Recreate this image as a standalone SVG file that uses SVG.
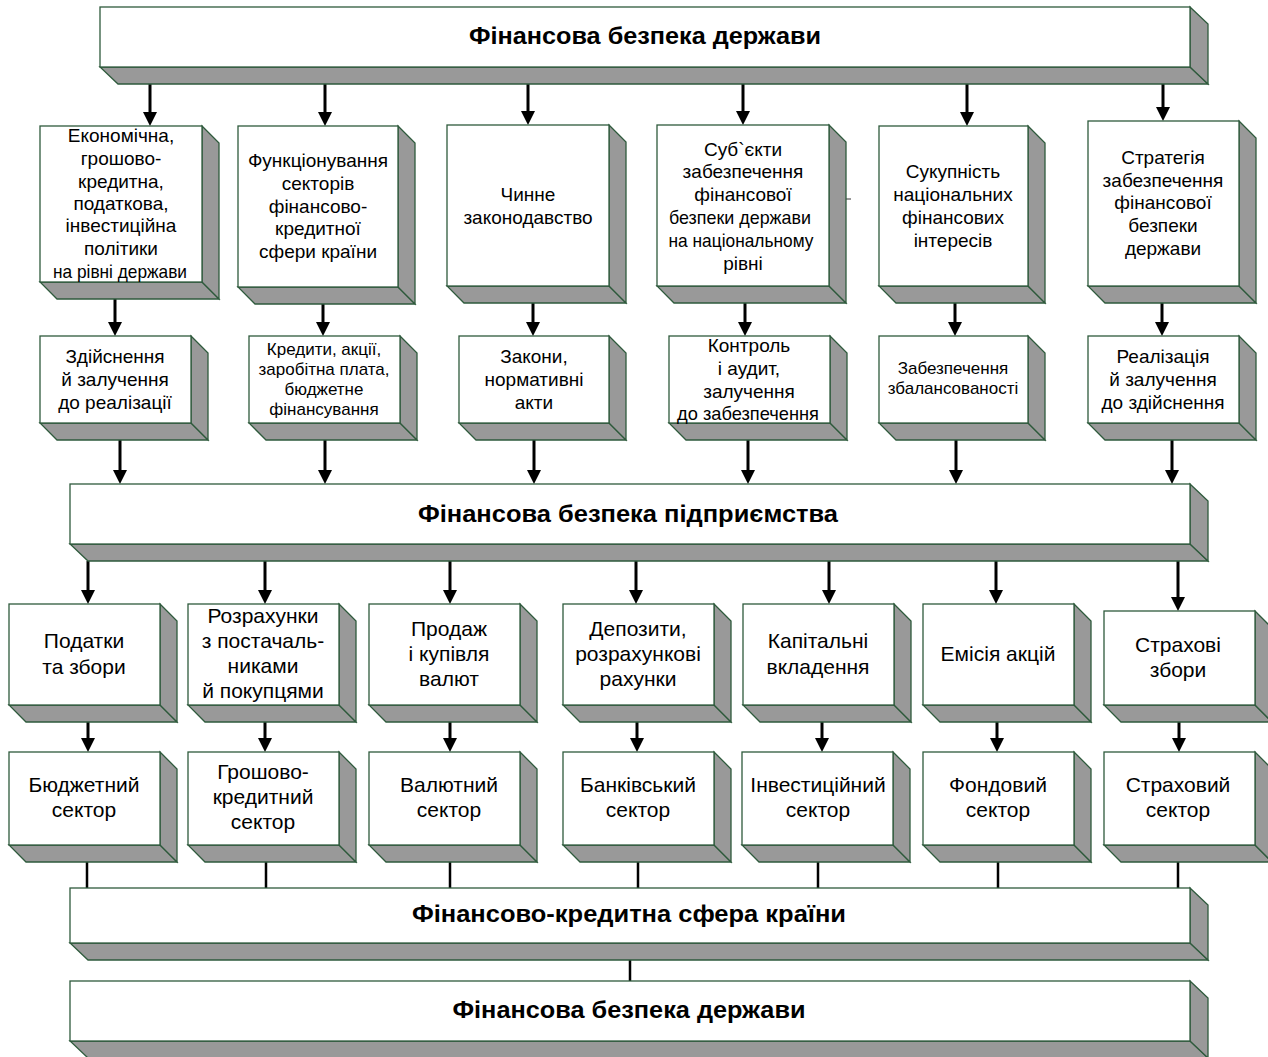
<svg xmlns="http://www.w3.org/2000/svg" width="1268" height="1057" viewBox="0 0 1268 1057">
<style>
.f{fill:#fff;stroke:#2e5a3c;stroke-width:1.3}
.s{fill:#999;stroke:#2e5a3c;stroke-width:1.3;stroke-linejoin:miter}
text{font-family:"Liberation Sans",Arial,sans-serif;fill:#000;text-anchor:middle}
.t{font-size:19px}
.m{font-size:17px}
.l{font-size:21px}
.b{font-size:24px;font-weight:bold}
.a{stroke:#000;stroke-width:3;fill:none}
.c{stroke:#000;stroke-width:2.5;fill:none}
</style>
<defs>
<marker id="ah" markerWidth="14" markerHeight="14" refX="0" refY="7" orient="auto" markerUnits="userSpaceOnUse"><path d="M0,0 L14,7 L0,14 z" fill="#000"/></marker>
</defs>

<g id="connectors">
<g class="a" marker-end="url(#ah)">
<line x1="150" y1="84" x2="150" y2="112"/><line x1="325" y1="84" x2="325" y2="112"/><line x1="528" y1="84" x2="528" y2="111"/><line x1="743" y1="84" x2="743" y2="111"/><line x1="967" y1="84" x2="967" y2="112"/><line x1="1163" y1="84" x2="1163" y2="107"/>
<line x1="115" y1="299" x2="115" y2="322"/><line x1="323" y1="304" x2="323" y2="322"/><line x1="533" y1="303" x2="533" y2="322"/><line x1="745" y1="303" x2="745" y2="322"/><line x1="955" y1="303" x2="955" y2="322"/><line x1="1162" y1="303" x2="1162" y2="322"/>
<line x1="120" y1="440" x2="120" y2="470"/><line x1="325" y1="440" x2="325" y2="470"/><line x1="534" y1="440" x2="534" y2="470"/><line x1="748" y1="440" x2="748" y2="470"/><line x1="956" y1="440" x2="956" y2="470"/><line x1="1172" y1="440" x2="1172" y2="470"/>
<line x1="88" y1="561" x2="88" y2="590"/><line x1="265" y1="561" x2="265" y2="590"/><line x1="450" y1="561" x2="450" y2="590"/><line x1="636" y1="561" x2="636" y2="590"/><line x1="829" y1="561" x2="829" y2="590"/><line x1="996" y1="561" x2="996" y2="590"/><line x1="1178" y1="561" x2="1178" y2="597"/>
<line x1="88" y1="722" x2="88" y2="738"/><line x1="265" y1="722" x2="265" y2="738"/><line x1="450" y1="722" x2="450" y2="738"/><line x1="637" y1="722" x2="637" y2="738"/><line x1="822" y1="722" x2="822" y2="738"/><line x1="997" y1="722" x2="997" y2="738"/><line x1="1179" y1="722" x2="1179" y2="738"/>
</g>
<path class="c" d="M87,862V888M266,862V888M450,862V888M638,862V888M818,862V888M998,862V888M1178,862V888M630,960V981"/>
<path stroke="#333" stroke-width="1" d="M845,199H851"/>
</g>

<g id="top">
<polygon class="s" points="100,67 1190,67 1208,84 118,84"/><polygon class="s" points="1190,7 1208,24 1208,84 1190,67"/>
<rect class="f" x="100" y="7" width="1090" height="60"/>
<text class="b" x="645" y="44" textLength="352" lengthAdjust="spacingAndGlyphs">Фінансова безпека держави</text>
</g>

<g id="a1">
<polygon class="s" points="40,282 202,282 219,299 57,299"/><polygon class="s" points="202,126 219,143 219,299 202,282"/>
<rect class="f" x="40" y="126" width="162" height="156"/>
<text class="t" x="121" y="142">Економічна,</text>
<text class="t" x="121" y="165">грошово-</text>
<text class="t" x="121" y="188">кредитна,</text>
<text class="t" x="121" y="210">податкова,</text>
<text class="t" x="121" y="232">інвестиційна</text>
<text class="t" x="121" y="255">політики</text>
<text class="t" x="120" y="278" textLength="134" lengthAdjust="spacingAndGlyphs">на рівні держави</text>
</g>
<g id="a2">
<polygon class="s" points="238,287 398,287 415,304 255,304"/><polygon class="s" points="398,126 415,143 415,304 398,287"/>
<rect class="f" x="238" y="126" width="160" height="161"/>
<text class="t" x="318" y="167">Функціонування</text>
<text class="t" x="318" y="190">секторів</text>
<text class="t" x="318" y="213">фінансово-</text>
<text class="t" x="318" y="235">кредитної</text>
<text class="t" x="318" y="258">сфери країни</text>
</g>
<g id="a3">
<polygon class="s" points="447,286 609,286 626,303 464,303"/><polygon class="s" points="609,125 626,142 626,303 609,286"/>
<rect class="f" x="447" y="125" width="162" height="161"/>
<text class="t" x="528" y="201">Чинне</text>
<text class="t" x="528" y="224">законодавство</text>
</g>
<g id="a4">
<polygon class="s" points="657,286 829,286 846,303 674,303"/><polygon class="s" points="829,125 846,142 846,303 829,286"/>
<rect class="f" x="657" y="125" width="172" height="161"/>
<text class="t" x="743" y="156">Суб`єкти</text>
<text class="t" x="743" y="178">забезпечення</text>
<text class="t" x="743" y="201">фінансової</text>
<text class="t" x="740" y="224" textLength="142" lengthAdjust="spacingAndGlyphs">безпеки держави</text>
<text class="t" x="741" y="247" textLength="145" lengthAdjust="spacingAndGlyphs">на національному</text>
<text class="t" x="743" y="270">рівні</text>
</g>
<g id="a5">
<polygon class="s" points="879,286 1028,286 1045,303 896,303"/><polygon class="s" points="1028,126 1045,143 1045,303 1028,286"/>
<rect class="f" x="879" y="126" width="149" height="160"/>
<text class="t" x="953" y="178">Сукупність</text>
<text class="t" x="953" y="201">національних</text>
<text class="t" x="953" y="224">фінансових</text>
<text class="t" x="953" y="247">інтересів</text>
</g>
<g id="a6">
<polygon class="s" points="1088,286 1239,286 1256,303 1105,303"/><polygon class="s" points="1239,121 1256,138 1256,303 1239,286"/>
<rect class="f" x="1088" y="121" width="151" height="165"/>
<text class="t" x="1163" y="164">Стратегія</text>
<text class="t" x="1163" y="187">забезпечення</text>
<text class="t" x="1163" y="209">фінансової</text>
<text class="t" x="1163" y="232">безпеки</text>
<text class="t" x="1163" y="255">держави</text>
</g>

<g id="b1">
<polygon class="s" points="40,423 191,423 208,440 57,440"/><polygon class="s" points="191,336 208,353 208,440 191,423"/>
<rect class="f" x="40" y="336" width="151" height="87"/>
<text class="t" x="115" y="363">Здійснення</text>
<text class="t" x="115" y="386">й залучення</text>
<text class="t" x="115" y="409">до реалізації</text>
</g>
<g id="b2">
<polygon class="s" points="249,423 400,423 417,440 266,440"/><polygon class="s" points="400,336 417,353 417,440 400,423"/>
<rect class="f" x="249" y="336" width="151" height="87"/>
<text class="m" x="324" y="355">Кредити, акції,</text>
<text class="m" x="324" y="375">заробітна плата,</text>
<text class="m" x="324" y="395">бюджетне</text>
<text class="m" x="324" y="415">фінансування</text>
</g>
<g id="b3">
<polygon class="s" points="459,423 609,423 626,440 476,440"/><polygon class="s" points="609,336 626,353 626,440 609,423"/>
<rect class="f" x="459" y="336" width="150" height="87"/>
<text class="t" x="534" y="363">Закони,</text>
<text class="t" x="534" y="386">нормативні</text>
<text class="t" x="534" y="409">акти</text>
</g>
<g id="b4">
<polygon class="s" points="669,423 830,423 847,440 686,440"/><polygon class="s" points="830,336 847,353 847,440 830,423"/>
<rect class="f" x="669" y="336" width="161" height="87"/>
<text class="t" x="749" y="352">Контроль</text>
<text class="t" x="749" y="375">і аудит,</text>
<text class="t" x="749" y="398">залучення</text>
<text class="t" x="748" y="420" textLength="142" lengthAdjust="spacingAndGlyphs">до забезпечення</text>
</g>
<g id="b5">
<polygon class="s" points="879,423 1028,423 1045,440 896,440"/><polygon class="s" points="1028,336 1045,353 1045,440 1028,423"/>
<rect class="f" x="879" y="336" width="149" height="87"/>
<text class="m" x="953" y="374">Забезпечення</text>
<text class="m" x="953" y="394">збалансованості</text>
</g>
<g id="b6">
<polygon class="s" points="1088,423 1239,423 1256,440 1105,440"/><polygon class="s" points="1239,336 1256,353 1256,440 1239,423"/>
<rect class="f" x="1088" y="336" width="151" height="87"/>
<text class="t" x="1163" y="363">Реалізація</text>
<text class="t" x="1163" y="386">й залучення</text>
<text class="t" x="1163" y="409">до здійснення</text>
</g>

<g id="enterprise">
<polygon class="s" points="70,544 1190,544 1208,561 88,561"/><polygon class="s" points="1190,484 1208,501 1208,561 1190,544"/>
<rect class="f" x="70" y="484" width="1120" height="60"/>
<text class="b" x="628" y="522" textLength="420" lengthAdjust="spacingAndGlyphs">Фінансова безпека підприємства</text>
</g>

<g id="c1">
<polygon class="s" points="9,705 160,705 177,722 26,722"/><polygon class="s" points="160,604 177,621 177,722 160,705"/>
<rect class="f" x="9" y="604" width="151" height="101"/>
<text class="l" x="84" y="648">Податки</text>
<text class="l" x="84" y="674">та збори</text>
</g>
<g id="c2">
<polygon class="s" points="188,705 339,705 356,722 205,722"/><polygon class="s" points="339,604 356,621 356,722 339,705"/>
<rect class="f" x="188" y="604" width="151" height="101"/>
<text class="l" x="263" y="623">Розрахунки</text>
<text class="l" x="263" y="648">з постачаль-</text>
<text class="l" x="263" y="673">никами</text>
<text class="l" x="263" y="698">й покупцями</text>
</g>
<g id="c3">
<polygon class="s" points="369,705 520,705 537,722 386,722"/><polygon class="s" points="520,604 537,621 537,722 520,705"/>
<rect class="f" x="369" y="604" width="151" height="101"/>
<text class="l" x="449" y="636">Продаж</text>
<text class="l" x="449" y="661">і купівля</text>
<text class="l" x="449" y="686">валют</text>
</g>
<g id="c4">
<polygon class="s" points="563,705 714,705 731,722 580,722"/><polygon class="s" points="714,604 731,621 731,722 714,705"/>
<rect class="f" x="563" y="604" width="151" height="101"/>
<text class="l" x="638" y="636">Депозити,</text>
<text class="l" x="638" y="661">розрахункові</text>
<text class="l" x="638" y="686">рахунки</text>
</g>
<g id="c5">
<polygon class="s" points="743,705 894,705 911,722 760,722"/><polygon class="s" points="894,604 911,621 911,722 894,705"/>
<rect class="f" x="743" y="604" width="151" height="101"/>
<text class="l" x="818" y="648">Капітальні</text>
<text class="l" x="818" y="674">вкладення</text>
</g>
<g id="c6">
<polygon class="s" points="923,705 1074,705 1091,722 940,722"/><polygon class="s" points="1074,604 1091,621 1091,722 1074,705"/>
<rect class="f" x="923" y="604" width="151" height="101"/>
<text class="l" x="998" y="661">Емісія акцій</text>
</g>
<g id="c7">
<polygon class="s" points="1104,705 1255,705 1272,722 1121,722"/><polygon class="s" points="1255,611 1272,628 1272,722 1255,705"/>
<rect class="f" x="1104" y="611" width="151" height="94"/>
<text class="l" x="1178" y="652">Страхові</text>
<text class="l" x="1178" y="677">збори</text>
</g>

<g id="d1">
<polygon class="s" points="9,845 160,845 177,862 26,862"/><polygon class="s" points="160,752 177,769 177,862 160,845"/>
<rect class="f" x="9" y="752" width="151" height="93"/>
<text class="l" x="84" y="792">Бюджетний</text>
<text class="l" x="84" y="817">сектор</text>
</g>
<g id="d2">
<polygon class="s" points="188,845 339,845 356,862 205,862"/><polygon class="s" points="339,752 356,769 356,862 339,845"/>
<rect class="f" x="188" y="752" width="151" height="93"/>
<text class="l" x="263" y="779">Грошово-</text>
<text class="l" x="263" y="804">кредитний</text>
<text class="l" x="263" y="829">сектор</text>
</g>
<g id="d3">
<polygon class="s" points="369,845 520,845 537,862 386,862"/><polygon class="s" points="520,752 537,769 537,862 520,845"/>
<rect class="f" x="369" y="752" width="151" height="93"/>
<text class="l" x="449" y="792">Валютний</text>
<text class="l" x="449" y="817">сектор</text>
</g>
<g id="d4">
<polygon class="s" points="563,845 714,845 731,862 580,862"/><polygon class="s" points="714,752 731,769 731,862 714,845"/>
<rect class="f" x="563" y="752" width="151" height="93"/>
<text class="l" x="638" y="792">Банківський</text>
<text class="l" x="638" y="817">сектор</text>
</g>
<g id="d5">
<polygon class="s" points="742,845 893,845 910,862 759,862"/><polygon class="s" points="893,752 910,769 910,862 893,845"/>
<rect class="f" x="742" y="752" width="151" height="93"/>
<text class="l" x="818" y="792">Інвестиційний</text>
<text class="l" x="818" y="817">сектор</text>
</g>
<g id="d6">
<polygon class="s" points="923,845 1074,845 1091,862 940,862"/><polygon class="s" points="1074,752 1091,769 1091,862 1074,845"/>
<rect class="f" x="923" y="752" width="151" height="93"/>
<text class="l" x="998" y="792">Фондовий</text>
<text class="l" x="998" y="817">сектор</text>
</g>
<g id="d7">
<polygon class="s" points="1104,845 1255,845 1272,862 1121,862"/><polygon class="s" points="1255,752 1272,769 1272,862 1255,845"/>
<rect class="f" x="1104" y="752" width="151" height="93"/>
<text class="l" x="1178" y="792">Страховий</text>
<text class="l" x="1178" y="817">сектор</text>
</g>

<g id="sphere">
<polygon class="s" points="70,943 1190,943 1208,960 88,960"/><polygon class="s" points="1190,888 1208,905 1208,960 1190,943"/>
<rect class="f" x="70" y="888" width="1120" height="55"/>
<text class="b" x="629" y="922" textLength="434" lengthAdjust="spacingAndGlyphs">Фінансово-кредитна сфера країни</text>
</g>

<g id="bottom">
<polygon class="s" points="70,1041 1190,1041 1208,1058 88,1058"/><polygon class="s" points="1190,981 1208,998 1208,1058 1190,1041"/>
<rect class="f" x="70" y="981" width="1120" height="60"/>
<text class="b" x="629" y="1018" textLength="353" lengthAdjust="spacingAndGlyphs">Фінансова безпека держави</text>
</g>
</svg>
